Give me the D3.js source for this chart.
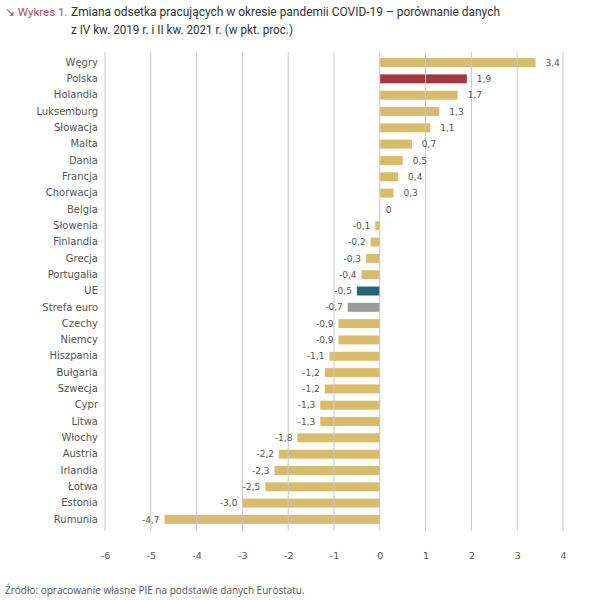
<!DOCTYPE html>
<html>
<head>
<meta charset="utf-8">
<script src="https://cdn.jsdelivr.net/npm/d3@7"></script>
<style>
  body { margin: 0; background: #fff; }
  svg text { font-family: "DejaVu Sans", sans-serif; }
</style>
</head>
<body>
<div id="chart"></div>
<script>
// data
const countries = ['Węgry', 'Polska', 'Holandia', 'Luksemburg', 'Słowacja', 'Malta', 'Dania', 'Francja',
  'Chorwacja', 'Belgia', 'Słowenia', 'Finlandia', 'Grecja', 'Portugalia', 'UE', 'Strefa euro', 'Czechy',
  'Niemcy', 'Hiszpania', 'Bułgaria', 'Szwecja', 'Cypr', 'Litwa', 'Włochy', 'Austria', 'Irlandia', 'Łotwa',
  'Estonia', 'Rumunia'];
const values = [3.4, 1.9, 1.7, 1.3, 1.1, 0.7, 0.5, 0.4, 0.3, 0, -0.1, -0.2, -0.3, -0.4, -0.5, -0.7, -0.9,
  -0.9, -1.1, -1.2, -1.2, -1.3, -1.3, -1.8, -2.2, -2.3, -2.5, -3.0, -4.7];
const xTicks = [-6, -5, -4, -3, -2, -1, 0, 1, 2, 3, 4];
const highlight = { 'Polska': '#a3383f', 'UE': '#2a6379', 'Strefa euro': '#9b9b9b' };

const data = countries.map((c, i) => ({ label: c, value: values[i] }));

const width = 593, height = 600;
const svg = d3.select('#chart').append('svg')
  .attr('width', width).attr('height', height);

// title
title = svg.append('g');
title.append('text').attr('x', 5).attr('y', 16)
  .attr('font-size', 11.5).attr('fill', '#a34d6b')
  .style('font-family', 'Roboto, sans-serif').text('↘ Wykres 1.');
title.append('text').attr('x', 71).attr('y', 16)
  .attr('font-size', 13).attr('fill', '#333')
  .attr('textLength', 429).attr('lengthAdjust', 'spacingAndGlyphs')
  .style('font-family', 'Roboto, sans-serif')
  .text('Zmiana odsetka pracujących w okresie pandemii COVID-19 – porównanie danych');
title.append('text').attr('x', 71).attr('y', 34)
  .attr('font-size', 13).attr('fill', '#333')
  .attr('textLength', 222).attr('lengthAdjust', 'spacingAndGlyphs')
  .style('font-family', 'Roboto, sans-serif')
  .text('z IV kw. 2019 r. i II kw. 2021 r. (w pkt. proc.)');

const x = d3.scaleLinear().domain([-6, 4]).range([105, 563]);
const y = d3.scaleBand().domain(countries).range([54, 528]).paddingInner(0.45).paddingOuter(0.25);

const fmt = v => v === 0 ? '0' : d3.format('.1f')(v).replace('.', ',').replace('−', '-');

// bars
svg.selectAll('.bar')
  .data(data)
  .enter()
  .append('rect')
  .attr('class', 'bar')
  .attr('x', d => x(Math.min(0, d.value)))
  .attr('y', d => y(d.label))
  .attr('width', d => Math.abs(x(d.value) - x(0)))
  .attr('height', y.bandwidth())
  .attr('fill', d => highlight[d.label] || '#d9bb6c');

// gridlines (drawn over the bars, as in the reference)
svg.append('g').selectAll('line')
  .data(xTicks)
  .enter()
  .append('line')
  .attr('x1', d => x(d)).attr('x2', d => x(d))
  .attr('y1', 52).attr('y2', 531)
  .attr('stroke', '#c8c8c8').attr('stroke-width', 1);

// x axis
const xAxis = svg.append('g')
  .attr('transform', 'translate(0,549)')
  .call(d3.axisBottom(x).tickValues(xTicks).tickSize(0).tickFormat(d => String(d)));
xAxis.select('.domain').remove();
xAxis.selectAll('text').attr('font-size', 9.5).attr('fill', '#555')
  .style('font-family', '"DejaVu Sans", sans-serif');

// y axis
const yAxis = svg.append('g')
  .attr('transform', 'translate(98,0)')
  .call(d3.axisLeft(y).tickSize(0).tickPadding(0));
yAxis.select('.domain').remove();
yAxis.selectAll('text').attr('font-size', 10).attr('fill', '#555')
  .style('font-family', '"DejaVu Sans", sans-serif');

// value labels
svg.selectAll('.val')
  .data(data)
  .enter()
  .append('text')
  .attr('class', 'val')
  .attr('x', d => d.value > 0 ? x(d.value) + 10 : d.value === 0 ? x(0) + 6 : x(d.value) - 5)
  .attr('y', d => y(d.label) + y.bandwidth() / 2)
  .attr('dy', '0.35em')
  .attr('text-anchor', d => d.value >= 0 ? 'start' : 'end')
  .attr('font-size', 9)
  .attr('fill', '#555')
  .text(d => fmt(d.value));

// source
svg.append('text').attr('x', 5).attr('y', 594)
  .attr('font-size', 10).attr('fill', '#555')
  .style('font-family', '"Open Sans", sans-serif')
  .text('Źródło: opracowanie własne PIE na podstawie danych Eurostatu.');
</script>
</body>
</html>
